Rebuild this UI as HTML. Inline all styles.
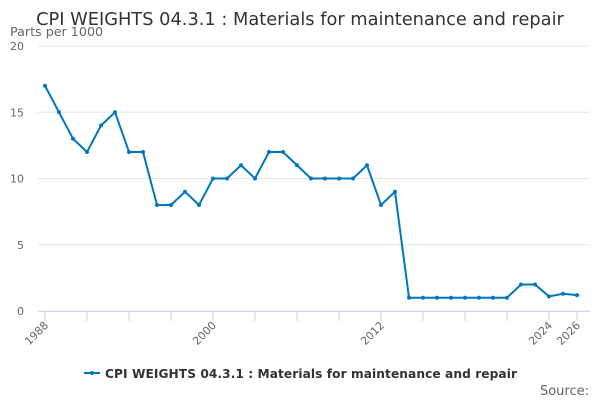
<!DOCTYPE html>
<html><head><meta charset="utf-8"><style>
body{margin:0;background:#fff;}
svg{display:block;font-family:"DejaVu Sans","Liberation Sans",sans-serif;}
</style></head><body>
<svg id="c" width="600" height="400">
<text x="300" y="25" text-anchor="middle" font-size="17.8" fill="#333">CPI WEIGHTS 04.3.1 : Materials for maintenance and repair</text>
<text x="10" y="36" font-size="12.7" fill="#666">Parts per 1000</text>
<g id="grid"></g><g id="xa"></g><g id="series"></g>
<g>
<line x1="84" y1="373" x2="100" y2="373" stroke="#0077c0" stroke-width="2"/>
<circle cx="92" cy="373" r="2" fill="#0077c0"/>
<text x="105" y="378" font-size="12.2" font-weight="bold" fill="#333" textLength="412">CPI WEIGHTS 04.3.1 : Materials for maintenance and repair</text>
</g>
<text x="589" y="395" text-anchor="end" font-size="13" fill="#666">Source:</text>
</svg>
<script>
const years=[1988,1989,1990,1991,1992,1993,1994,1995,1996,1997,1998,1999,2000,2001,2002,2003,2004,2005,2006,2007,2008,2009,2010,2011,2012,2013,2014,2015,2016,2017,2018,2019,2020,2021,2022,2023,2024,2025,2026];
const values=[17,15,13,12,14,15,12,12,8,8,9,8,10,10,11,10,12,12,11,10,10,10,10,11,8,9,1,1,1,1,1,1,1,1,2,2,1.1,1.3,1.2];
const yTicks=[0,5,10,15,20];
const xLabels=[1988,2000,2012,2024,2026];
const NS="http://www.w3.org/2000/svg";
const X=y=>45+(y-1988)*(577-45)/38;
const Y=v=>311-v*(311-46)/20;
function mk(t,a,p){const e=document.createElementNS(NS,t);for(const k in a)e.setAttribute(k,a[k]);p.appendChild(e);return e;}
const g=document.getElementById('grid'),xa=document.getElementById('xa'),s=document.getElementById('series');
yTicks.forEach(v=>{
const l=mk('line',{x1:38,x2:590,y1:Y(v),y2:Y(v),stroke:'#e6e6e6'},g);


const t=mk('text',{x:24,y:Y(v)+4,'text-anchor':'end','font-size':11,fill:'#666'},g);t.textContent=v;


});
mk('line',{x1:38,x2:590,y1:311.5,y2:311.5,stroke:'#ccd6eb'},xa);
for(let y=1988;y<=2026;y+=3){mk('line',{x1:X(y),x2:X(y),y1:311,y2:321,stroke:'#ccd6eb'},xa);}
mk('line',{x1:X(2026),x2:X(2026),y1:311,y2:321,stroke:'#ccd6eb'},xa);
xLabels.forEach(y=>{
const t=mk('text',{x:X(y)+4,y:326,'text-anchor':'end','font-size':11,fill:'#666',transform:`rotate(-45 ${X(y)+4} 326)`},xa);t.textContent=y;


});
const p=mk('polyline',{points:years.map((y,i)=>X(y)+','+Y(values[i])).join(' '),fill:'none',stroke:'#0077c0','stroke-width':2},s);


years.forEach((y,i)=>{
const c=mk('circle',{cx:X(y),cy:Y(values[i]),r:2,fill:'#0077c0'},s);


});
</script>
</body></html>
